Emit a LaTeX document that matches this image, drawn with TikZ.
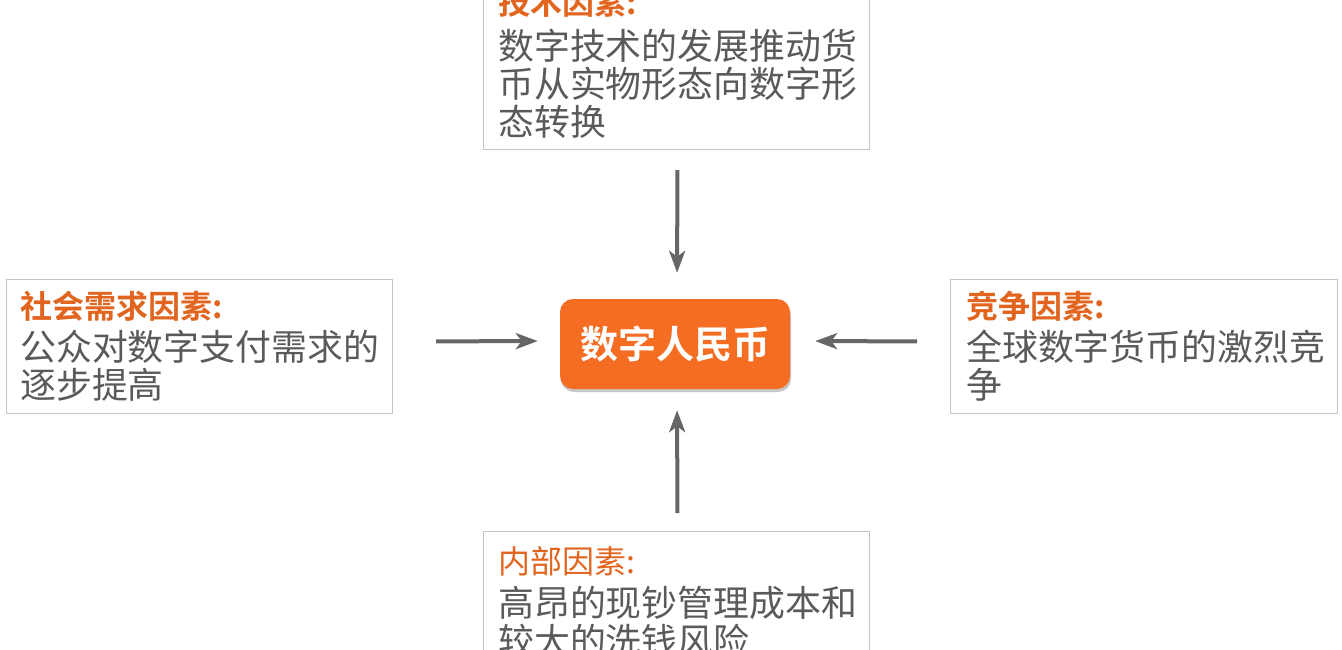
\documentclass[tikz,border=0pt]{standalone}
\usepackage{fontspec}
\newfontfamily\cjk{Noto Sans CJK SC}[BoldFont={Noto Sans CJK SC Bold}]
\usetikzlibrary{arrows.meta,shadows}
\definecolor{accent}{HTML}{E2651F}
\definecolor{corefill}{HTML}{F46D22}
\definecolor{bodytext}{HTML}{5A5A5A}
\definecolor{boxline}{HTML}{C4C4C4}
\definecolor{arrowcol}{HTML}{666666}
\tikzset{
  factorbox/.style={draw=boxline, line width=1pt, fill=white, rectangle, inner sep=0pt, minimum width=386pt, minimum height=134pt},
  titletext/.style={anchor=base west, inner sep=0pt, text=accent, font=\cjk\fontsize{32}{36}\selectfont},
  titlebold/.style={titletext, font=\cjk\bfseries\fontsize{32}{36}\selectfont},
  bodytextnode/.style={anchor=base west, inner sep=0pt, text=bodytext, align=left, font=\cjk\fontsize{35.9}{38.5}\selectfont},
  core/.style={rectangle, rounded corners=13pt, fill=corefill, minimum width=230pt, minimum height=90pt, inner sep=0pt,
    text=white, font=\cjk\bfseries\fontsize{38}{40}\selectfont,
    drop shadow={shadow xshift=1pt, shadow yshift=-3pt, opacity=0.22, fill=black}},
  arr/.style={draw=arrowcol, line width=4pt, -{Stealth[length=22pt,width=16pt,inset=6pt]}}
}
\begin{document}
\begin{tikzpicture}[x=1pt,y=-1pt]
\useasboundingbox (0,0) rectangle (1342,649);
% boxes
\node[factorbox, anchor=south west, minimum height=200pt] (top) at (483,150) {};
\node[factorbox, anchor=north west] (left) at (6,279) {};
\node[factorbox, anchor=north west, minimum width=387pt] (right) at (950,279) {};
\node[factorbox, anchor=north west, minimum height=200pt] (bottom) at (483,531) {};
\node[core] (center) at (675,344) {数字人民币};
% texts
\node[titlebold] (toptitle) at (498,14) {技术因素:};
\node[bodytextnode] (topbody1) at (498,59) {数字技术的发展推动货};
\node[bodytextnode] (topbody2) at (498,97) {币从实物形态向数字形};
\node[bodytextnode] (topbody3) at (498,135) {态转换};
\node[titlebold] (lefttitle) at (20,318) {社会需求因素:};
\node[bodytextnode] (leftbody1) at (20,360) {公众对数字支付需求的};
\node[bodytextnode] (leftbody2) at (20,398) {逐步提高};
\node[titlebold] (righttitle) at (966,318) {竞争因素:};
\node[bodytextnode] (rightbody1) at (966,360) {全球数字货币的激烈竞};
\node[bodytextnode] (rightbody2) at (966,398) {争};
\node[titletext] (bottomtitle) at (498,573) {内部因素:};
\node[bodytextnode] (bottombody1) at (498,616) {高昂的现钞管理成本和};
\node[bodytextnode] (bottombody2) at (498,654) {较大的洗钱风险};
% arrows
\draw[arr, shorten <=20pt, shorten >=26pt] ([xshift=1pt]top.south) -- ([xshift=2pt]center.north);
\draw[arr, shorten <=18pt, shorten >=21pt] ([xshift=1pt]bottom.north) -- ([xshift=2pt]center.south);
\draw[arr, shorten <=43pt, shorten >=22pt] ([yshift=5pt]left.east) -- ([yshift=3pt]center.west);
\draw[arr, shorten <=33pt, shorten >=25pt] ([yshift=5pt]right.west) -- ([yshift=3pt]center.east);
\end{tikzpicture}
\end{document}
